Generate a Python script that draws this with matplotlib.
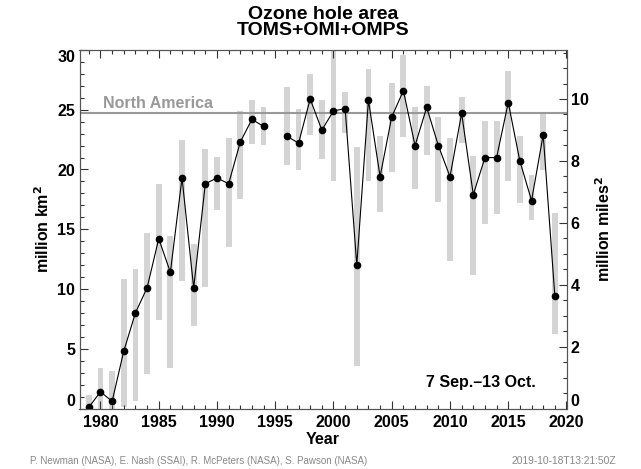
import matplotlib
matplotlib.use("Agg")
import matplotlib.pyplot as plt
import numpy as np
from matplotlib.ticker import MultipleLocator

plt.rcParams['font.family'] = ['Liberation Sans', 'DejaVu Sans']

years = [1979, 1980, 1981, 1982, 1983, 1984, 1985, 1986, 1987, 1988, 1989, 1990,
         1991, 1992, 1993, 1994, 1996, 1997, 1998, 1999, 2000, 2001, 2002, 2003,
         2004, 2005, 2006, 2007, 2008, 2009, 2010, 2011, 2012, 2013, 2014, 2015,
         2016, 2017, 2018, 2019]
mean_area = [0.1, 1.4, 0.6, 4.8, 8.0, 10.1, 14.2, 11.4, 19.3, 10.1, 18.8, 19.3,
             18.8, 22.3, 24.2, 23.6, 22.8, 22.2, 25.9, 23.3, 24.9, 25.1, 12.0, 25.8,
             19.4, 24.4, 26.6, 22.0, 25.2, 22.0, 19.4, 24.7, 17.9, 21.0, 21.0, 25.6,
             20.7, 17.4, 22.9, 9.4]
min_area = [0.0, 0.0, 0.0, 0.1, 0.65, 2.85, 7.4, 3.35, 10.65, 6.9, 10.2, 16.65,
            13.5, 17.5, 22.1, 22.05, 20.4, 19.95, 22.9, 20.9, 19.0, 23.05, 3.55, 19.05,
            16.45, 19.8, 22.7, 18.4, 21.2, 17.3, 12.35, 22.2, 11.2, 15.4, 16.25, 19.0,
            17.2, 15.75, 19.95, 6.2]
max_area = [1.1, 3.35, 3.15, 10.8, 11.7, 14.7, 18.8, 14.4, 22.5, 13.75, 21.75, 21.05,
            22.6, 24.9, 25.8, 25.2, 26.9, 25.05, 28.0, 25.8, 29.9, 26.5, 21.85, 28.4,
            22.8, 27.25, 29.6, 25.2, 27.0, 24.4, 22.6, 26.1, 21.1, 24.05, 24.1, 28.25,
            22.8, 19.55, 24.8, 16.4]
north_america = 24.7
km2_per_mile2 = 2.58999

W, H = 641, 469
fig = plt.figure(figsize=(W / 100, H / 100), dpi=100)
ax = fig.add_axes([79.5 / W, 1 - 408.5 / H, (566.5 - 79.5) / W, (408.5 - 50) / H])

yrs = np.array(years)
lo = np.array(min_area)
hi = np.array(max_area)
ax.bar(yrs, hi - lo, bottom=lo, width=0.5, color='#d4d4d4', zorder=1)

# line with a gap for the missing 1995
ax.plot(years[:16], mean_area[:16], color='black', lw=0.8, marker='o', ms=4.5, zorder=3)
ax.plot(years[16:], mean_area[16:], color='black', lw=0.8, marker='o', ms=4.5, zorder=3)

ax.axhline(north_america, color='#999999', lw=1.5, zorder=2)
ax.text(1980.2, north_america + 0.2, 'North America', color='#999999', fontsize=11.5,
        fontweight='bold', ha='left', va='bottom')

ax.set_xlim(1978.2, 2020)
ax.set_ylim(0, 30)
ax.xaxis.set_major_locator(MultipleLocator(5))
ax.xaxis.set_minor_locator(MultipleLocator(1))
ax.yaxis.set_major_locator(MultipleLocator(5))
ax.yaxis.set_minor_locator(MultipleLocator(1))
ax.tick_params(which='both', direction='in', top=True, right=False, colors='#333333',
               labelcolor='black')
ax.tick_params(which='major', length=6, width=0.8, labelsize=11.5)
ax.tick_params(axis='y', which='major', pad=3)
ax.tick_params(axis='x', which='major', pad=5)
ax.tick_params(which='minor', length=3, width=0.8)
for sp in ax.spines.values():
    sp.set_color('#555555')
    sp.set_linewidth(0.8)

ax.set_xlabel('Year', fontsize=11.5, fontweight='bold', labelpad=1)
ax.set_ylabel('million km$^\\mathbf{2}$', fontsize=11.5, fontweight='bold', labelpad=4)

ax2 = ax.twinx()
ax2.set_ylim(0, 30 / km2_per_mile2)
ax2.yaxis.set_major_locator(MultipleLocator(2))
ax2.yaxis.set_minor_locator(MultipleLocator(0.5))
ax2.tick_params(which='both', direction='in', colors='#333333', labelcolor='black')
ax2.tick_params(which='major', length=6, width=0.8, labelsize=11.5, pad=3)
ax2.tick_params(which='minor', length=3, width=0.8)
for sp in ax2.spines.values():
    sp.set_color('#555555')
    sp.set_linewidth(0.8)
ax2.set_ylabel('million miles$^\\mathbf{2}$', fontsize=11.5, fontweight='bold', labelpad=4)

fig.canvas.draw()
for t in ax.xaxis.get_major_ticks() + ax.yaxis.get_major_ticks():
    t.label1.set_fontweight('bold')
for t in ax2.yaxis.get_major_ticks():
    t.label2.set_fontweight('bold')
yt = ax.yaxis.get_major_ticks()
yt[0].label1.set_va('bottom')
yt[-1].label1.set_va('top')
for t in ax.yaxis.get_major_ticks():
    if abs(t.get_loc() - 0) < 1e-9:
        t.label1.set_va('bottom')
    if abs(t.get_loc() - 30) < 1e-9:
        t.label1.set_va('top')
for t in ax2.yaxis.get_major_ticks():
    if abs(t.get_loc() - 0) < 1e-9:
        t.label2.set_va('bottom')

ax.text(2017.4, 1.55, '7 Sep.–13 Oct.', fontsize=11.5, fontweight='bold', ha='right',
        va='bottom')

fig.text(323 / W, 1 - 14.5 / H, 'Ozone hole area', fontsize=14, fontweight='bold',
         ha='center', va='center')
fig.text(323 / W, 1 - 30.5 / H, 'TOMS+OMI+OMPS', fontsize=14, fontweight='bold',
         ha='center', va='center')
fig.text(30 / W, 1 - 461 / H,
         'P. Newman (NASA), E. Nash (SSAI), R. McPeters (NASA), S. Pawson (NASA)',
         fontsize=7.0, color='#888888', ha='left', va='center')
fig.text(616 / W, 1 - 461 / H, '2019-10-18T13:21:50Z', fontsize=7.4, color='#888888',
         ha='right', va='center')

fig.savefig('out.png', dpi=100)
